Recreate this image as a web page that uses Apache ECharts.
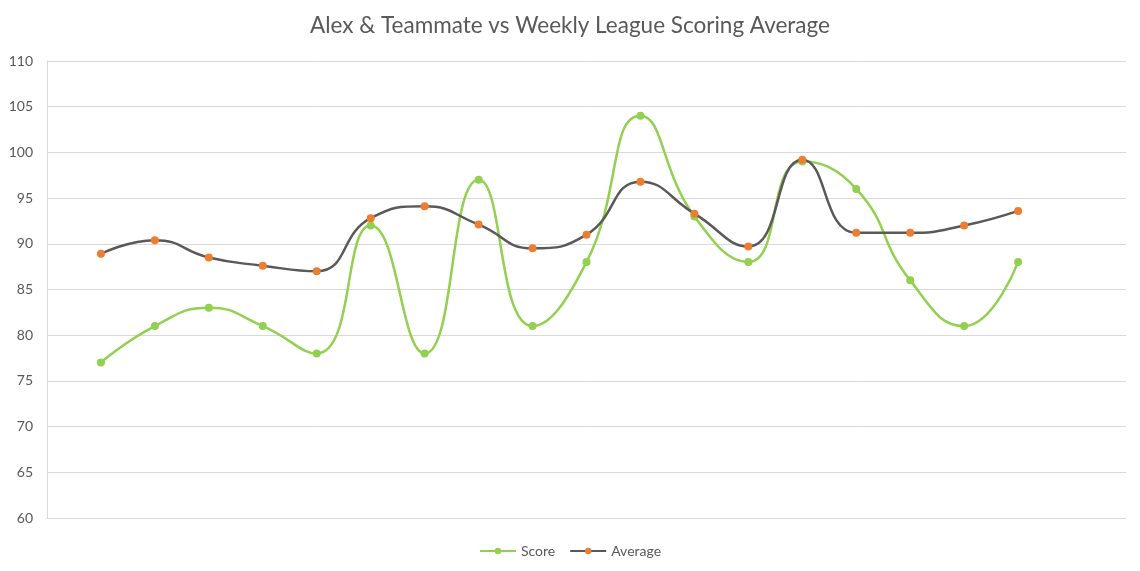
<!DOCTYPE html>
<html>
<head>
<meta charset="utf-8">
<title>Alex & Teammate vs Weekly League Scoring Average</title>
<script src="https://cdn.jsdelivr.net/npm/echarts@6/dist/echarts.min.js"></script>
<style>
    html, body {
        margin: 0;
        padding: 0;
        background: #ffffff;
    }

    #chart {
        width: 1140px;
        height: 571px;
    }
</style>
</head>
<body>
<div id="chart"></div>
<script>
    // weekly values
    const weeks = ['Week 1', 'Week 2', 'Week 3', 'Week 4', 'Week 5', 'Week 6', 'Week 7', 'Week 8', 'Week 9',
        'Week 10', 'Week 11', 'Week 12', 'Week 13', 'Week 14', 'Week 15', 'Week 16', 'Week 17', 'Week 18'];
    const score = [77, 81, 83, 81, 78, 92, 78, 97, 81, 88, 104, 93, 88, 99, 96, 86, 81, 88];
    const average = [88.9, 90.4, 88.5, 87.6, 87, 92.8, 94.1, 92.1, 89.5, 91, 96.8, 93.3, 89.7, 99.2, 91.2, 91.2, 92, 93.6];
    const yTicks = [60, 65, 70, 75, 80, 85, 90, 95, 100, 105, 110];

    // empty slots so the axis runs past the data like the original
    const xCats = [''].concat(weeks, ['', '']);
    const pad = (arr) => [null].concat(arr, [null, null]);

    const textColor = '#595959';
    const fontFamily = 'Lato, "Open Sans", sans-serif';

    const myChart = echarts.init(document.getElementById('chart'), null, { renderer: 'canvas' });

    const option = {
        animation: false,
        title: {
            text: 'Alex & Teammate vs Weekly League Scoring Average',
            left: 'center',
            top: 9,
            textStyle: {
                color: textColor,
                fontSize: 22.5,
                fontWeight: 'normal',
                fontFamily: fontFamily
            }
        },
        legend: {
            bottom: 8,
            left: 'center',
            itemWidth: 36,
            itemHeight: 8,
            itemGap: 14,
            textStyle: {
                color: textColor,
                fontSize: 14,
                fontFamily: fontFamily
            },
            data: ['Score', 'Average']
        },
        grid: {
            left: 47,
            right: 14,
            top: 61,
            bottom: 53,
            containLabel: false
        },
        xAxis: {
            type: 'category',
            data: xCats,
            boundaryGap: false,
            axisTick: { show: false },
            axisLabel: { show: false },
            axisLine: {
                show: true,
                lineStyle: { color: '#d9d9d9' }
            },
            splitLine: { show: false }
        },
        yAxis: {
            type: 'value',
            min: yTicks[0],
            max: yTicks[yTicks.length - 1],
            interval: 5,
            axisTick: { show: false },
            axisLine: {
                show: true,
                lineStyle: { color: '#d9d9d9' }
            },
            axisLabel: {
                color: textColor,
                fontSize: 14,
                fontFamily: fontFamily,
                margin: 14
            },
            splitLine: {
                lineStyle: { color: '#d9d9d9' }
            }
        },
        series: [
            {
                name: 'Score',
                type: 'line',
                data: pad(score),
                smooth: 0.5,
                symbol: 'circle',
                symbolSize: 8,
                lineStyle: { color: '#92d050', width: 2.5 },
                itemStyle: { color: '#92d050' },
                z: 2
            },
            {
                name: 'Average',
                type: 'line',
                data: pad(average),
                smooth: 0.5,
                symbol: 'circle',
                symbolSize: 8,
                lineStyle: { color: '#595959', width: 2.5 },
                itemStyle: { color: '#ed7d31' },
                z: 3
            }
        ]
    };

    option && myChart.setOption(option);
</script>
</body>
</html>
